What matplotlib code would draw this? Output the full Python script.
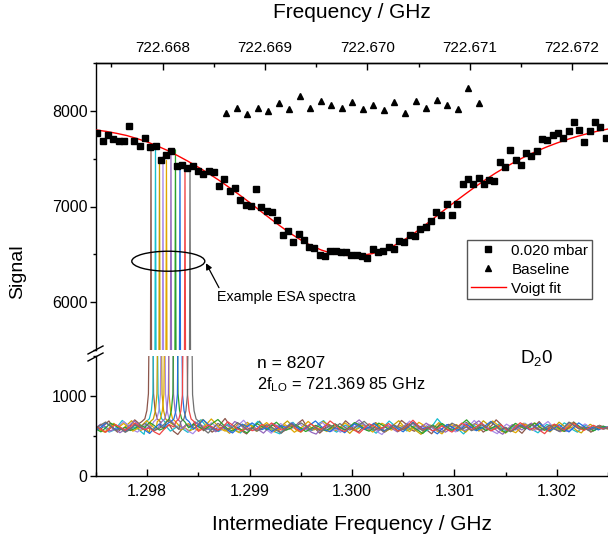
import numpy as np
import matplotlib
matplotlib.use("Agg")
import matplotlib.pyplot as plt
from matplotlib.ticker import MultipleLocator, FormatStrFormatter
from matplotlib.patches import Ellipse
from matplotlib.lines import Line2D

plt.rcParams['font.family'] = ['Liberation Sans', 'DejaVu Sans']

# sweep grid (intermediate frequency, GHz)
IF_MIN, IF_MAX = 1.2975, 1.3025
LO2 = 721.36985            # 2 f_LO, GHz
sig_x0, sig_dx = 1.297513, 0.0000517

# measured signal, 0.020 mbar
signal = [7770, 7682, 7752, 7707, 7682, 7682, 7839, 7682, 7637, 7718,
          7620, 7637, 7488, 7540, 7578, 7425, 7436, 7404, 7428, 7376,
          7342, 7376, 7358, 7212, 7289, 7157, 7195, 7063, 7018, 7010,
          7185, 7000, 6948, 6940, 6854, 6704, 6739, 6627, 6715, 6652,
          6575, 6564, 6495, 6481, 6530, 6540, 6522, 6522, 6488, 6488,
          6478, 6464, 6558, 6522, 6535, 6580, 6560, 6640, 6630, 6700,
          6690, 6770, 6790, 6850, 6940, 6916, 7028, 6906, 7021, 7230,
          7285, 7230, 7293, 7230, 7282, 7264, 7460, 7411, 7593, 7491,
          7436, 7564, 7530, 7585, 7707, 7690, 7745, 7766, 7714, 7787,
          7881, 7802, 7669, 7784, 7888, 7829, 7718]

# baseline (triangles)
base_x0, base_dx = 1.29877, 0.0001028
baseline = [7975, 8032, 7969, 8025, 8002, 8086, 8016, 8153, 8032, 8099,
            8063, 8029, 8092, 8019, 8066, 8012, 8096, 7975, 8104, 8025,
            8118, 8066, 8019, 8236, 8085]

# Voigt fit
fit_x = [1.2975, 1.2976, 1.2977, 1.2978, 1.2979, 1.2980, 1.2981, 1.2982, 1.2983, 1.2984,
         1.2985, 1.2986, 1.2987, 1.2988, 1.2989, 1.2990, 1.2991, 1.2992, 1.2993, 1.2994,
         1.2995, 1.2996, 1.2997, 1.2998, 1.2999, 1.3000, 1.3001, 1.3002, 1.3003, 1.3004,
         1.3005, 1.3006, 1.3007, 1.3008, 1.3009, 1.3010, 1.3011, 1.3012, 1.3013, 1.3014,
         1.3015, 1.3016, 1.3017, 1.3018, 1.3019, 1.3020, 1.3021, 1.3022, 1.3023, 1.3024,
         1.3025]
fit_y = [7800, 7785, 7765, 7742, 7710, 7675, 7632, 7585, 7530, 7472,
         7410, 7345, 7275, 7200, 7122, 7042, 6958, 6875, 6795, 6718,
         6650, 6592, 6545, 6512, 6492, 6485, 6490, 6508, 6540, 6585,
         6645, 6715, 6795, 6878, 6962, 7045, 7125, 7203, 7278, 7348,
         7412, 7472, 7527, 7577, 7622, 7663, 7700, 7733, 7762, 7788,
         7810]

# example ESA spectra: peak centre, peak height, colour
esa_centre = [1.298037, 1.298081, 1.298120, 1.298154, 1.298188,
              1.298232, 1.298276, 1.298320, 1.298369, 1.298418]
esa_height = [7603, 7630, 7500, 7520, 7481, 7540, 7592, 7428, 7436, 7410]
esa_color = ['#8c564b', '#17becf', '#c8a000', '#a98be8', '#e0a800',
             '#9467bd', '#2ca02c', '#1f6fe0', '#f04545', '#707070']
esa_base = 610
peak_dx = [-0.00009, -0.00006, -0.00004, -0.000025, -0.000012, 0.0,
           0.000012, 0.000025, 0.00004, 0.00006, 0.00009]
peak_rel = [0.01, 0.015, 0.03, 0.06, 0.3, 1.0, 0.3, 0.06, 0.03, 0.015, 0.01]

esa_noise = [
    [610, 575, 640, 688, 602, 548, 596, 571, 633, 702, 655, 589, 540, 583, 662, 617, 598, 641, 560, 519,
     587, 646, 612, 677, 631, 566, 603, 548, 590, 653, 719, 640, 581, 612, 559, 526, 598, 634, 685, 620,
     577, 645, 596, 541, 573, 628, 604, 662, 703, 618, 567, 589, 536, 582, 649, 611, 578, 624, 690, 643,
     581, 552, 606, 574, 631, 667, 598, 544, 583, 640, 612, 695, 652, 587, 559, 601, 633, 570, 528, 594,
     657, 619, 646, 604, 561, 590, 671, 638, 577, 612, 549, 586, 633, 702, 651, 596, 568, 611, 580, 534,
     597, 652, 625, 680, 617, 563, 598, 641, 589, 557, 612, 676, 630, 585, 603, 548, 579, 634, 611, 598],
    [582, 637, 603, 549, 571, 626, 694, 648, 590, 613, 567, 521, 588, 641, 617, 676, 622, 561, 597, 634,
     582, 545, 609, 668, 703, 631, 574, 602, 556, 591, 645, 612, 570, 538, 597, 651, 627, 683, 639, 578,
     604, 549, 527, 589, 634, 671, 615, 586, 620, 566, 602, 659, 692, 633, 581, 548, 595, 637, 606, 568,
     611, 657, 614, 579, 535, 583, 628, 687, 641, 596, 618, 563, 592, 647, 605, 553, 579, 636, 716, 652,
     590, 567, 601, 574, 526, 588, 642, 613, 660, 624, 571, 603, 649, 588, 552, 597, 633, 608, 659, 617,
     572, 540, 593, 645, 622, 581, 609, 664, 631, 577, 548, 600, 638, 594, 571, 612, 584, 606],
    [627, 571, 548, 603, 658, 612, 587, 639, 691, 628, 569, 597, 546, 513, 579, 638, 606, 654, 619, 575,
     601, 563, 592, 649, 707, 642, 588, 557, 610, 578, 534, 596, 655, 623, 671, 618, 560, 584, 637, 596,
     551, 603, 642, 688, 629, 573, 548, 592, 619, 577, 629, 682, 645, 597, 566, 611, 583, 533, 590, 651,
     608, 573, 621, 660, 606, 557, 589, 645, 691, 628, 584, 605, 562, 521, 593, 638, 612, 667, 619, 578,
     603, 643, 587, 547, 598, 656, 627, 690, 644, 582, 609, 563, 536, 594, 641, 607, 659, 620, 571, 596,
     637, 585, 552, 608, 673, 629, 588, 615, 567, 539, 601, 646, 613, 586, 620, 592],
    [596, 643, 612, 558, 585, 626, 680, 633, 575, 549, 602, 651, 614, 568, 596, 639, 704, 648, 586, 611,
     562, 528, 590, 632, 609, 665, 618, 573, 601, 547, 582, 643, 697, 629, 566, 593, 621, 578, 535, 597,
     656, 621, 584, 612, 660, 611, 563, 590, 628, 672, 619, 558, 586, 547, 605, 649, 612, 667, 626, 571,
     598, 552, 519, 587, 640, 611, 583, 630, 686, 628, 574, 601, 646, 598, 560, 592, 633, 579, 551, 610,
     662, 631, 694, 635, 580, 607, 559, 529, 596, 648, 613, 574, 618, 658, 603, 567, 594, 639, 681, 622,
     570, 598, 557, 583, 631, 606, 651, 612, 579, 604, 623, 592],
    [619, 581, 553, 601, 644, 612, 658, 606, 561, 594, 637, 692, 634, 579, 606, 559, 518, 586, 629, 603,
     655, 614, 572, 598, 649, 713, 651, 590, 561, 608, 575, 543, 598, 651, 618, 576, 623, 668, 612, 568,
     592, 641, 601, 547, 584, 626, 682, 633, 579, 603, 556, 590, 638, 611, 663, 621, 570, 597, 642, 588,
     549, 606, 659, 627, 574, 598, 633, 587, 556, 613, 671, 636, 589, 615, 561, 527, 591, 645, 614, 570,
     609, 652, 605, 562, 596, 631, 687, 642, 583, 601, 567, 541, 599, 648, 619, 663, 624, 576, 603, 638,
     591, 558, 612, 664, 628, 584, 607, 571, 598, 630, 601, 587],
    [603, 648, 616, 563, 591, 541, 579, 634, 688, 637, 583, 612, 564, 599, 651, 613, 572, 540, 597, 643,
     611, 668, 626, 577, 604, 553, 589, 640, 614, 681, 648, 591, 565, 610, 578, 536, 598, 653, 624, 589,
     617, 663, 612, 569, 593, 547, 524, 588, 637, 604, 651, 609, 574, 601, 655, 702, 646, 588, 614, 566,
     593, 632, 587, 551, 605, 657, 621, 579, 608, 661, 618, 572, 596, 548, 583, 639, 610, 568, 594, 645,
     690, 638, 581, 606, 557, 522, 589, 643, 612, 576, 620, 661, 609, 566, 597, 634, 585, 552, 610, 668,
     627, 588, 614, 573, 599, 627, 603, 590],
    [588, 552, 603, 661, 626, 581, 610, 568, 594, 642, 607, 670, 629, 574, 598, 545, 521, 585, 634, 603,
     647, 617, 579, 611, 663, 706, 645, 590, 562, 604, 572, 538, 596, 655, 619, 580, 626, 672, 615, 573,
     601, 641, 598, 556, 589, 633, 607, 567, 594, 650, 611, 576, 614, 668, 639, 586, 560, 603, 661, 627,
     584, 609, 561, 594, 646, 612, 572, 531, 590, 637, 604, 656, 612, 571, 598, 651, 702, 639, 583, 612,
     567, 596, 628, 582, 543, 604, 658, 624, 588, 617, 662, 610, 571, 599, 643, 594, 557, 611, 667, 626,
     582, 606, 563, 599, 622, 606],
    [571, 609, 665, 623, 581, 604, 557, 592, 643, 611, 574, 532, 598, 651, 618, 671, 624, 578, 601, 553,
     585, 636, 703, 647, 592, 563, 612, 575, 538, 594, 648, 616, 664, 621, 579, 606, 557, 590, 629, 604,
     662, 614, 571, 598, 643, 688, 629, 576, 553, 607, 580, 541, 597, 652, 619, 583, 612, 659, 607, 564,
     592, 634, 586, 553, 610, 672, 634, 589, 615, 568, 527, 591, 643, 610, 571, 599, 645, 603, 566, 595,
     636, 683, 628, 574, 604, 557, 589, 641, 612, 574, 615, 659, 607, 562, 597, 642, 590, 551, 608, 664,
     623, 588, 612, 576, 603, 614],
    [624, 587, 547, 598, 643, 607, 569, 613, 661, 619, 577, 602, 550, 518, 586, 642, 612, 665, 624, 579,
     603, 558, 593, 637, 609, 570, 611, 678, 637, 587, 562, 605, 567, 590, 645, 611, 663, 617, 574, 599,
     650, 593, 552, 607, 653, 613, 575, 621, 688, 642, 582, 556, 604, 572, 535, 596, 652, 624, 583, 611,
     656, 602, 561, 589, 638, 697, 633, 574, 606, 563, 591, 627, 582, 549, 604, 661, 626, 579, 613, 659,
     608, 563, 594, 640, 587, 556, 609, 666, 625, 581, 604, 571, 529, 598, 649, 612, 574, 617, 662, 608,
     569, 597, 634, 606, 585, 611],
    [601, 639, 675, 619, 567, 592, 546, 582, 640, 604, 657, 612, 569, 596, 648, 701, 640, 583, 607, 556,
     591, 633, 588, 537, 599, 657, 621, 578, 611, 667, 632, 579, 603, 561, 594, 642, 611, 572, 535, 596,
     649, 617, 665, 626, 580, 605, 560, 588, 634, 604, 656, 611, 574, 602, 641, 683, 627, 572, 596, 551,
     587, 636, 613, 576, 618, 663, 609, 565, 597, 626, 580, 548, 607, 661, 628, 584, 612, 566, 591, 639,
     604, 671, 627, 579, 608, 553, 586, 633, 602, 647, 613, 573, 598, 637, 588, 559, 612, 674, 631, 590,
     611, 567, 594, 625, 603, 596],
]


def esa_trace(noise, centre, height):
    x = np.linspace(IF_MIN, IF_MAX, len(noise))
    y = np.array(noise, dtype=float)
    keep = np.abs(x - centre) > peak_dx[-1]
    px = centre + np.array(peak_dx)
    py = esa_base + np.array(peak_rel) * (height - esa_base)
    xx = np.concatenate([x[keep], px])
    yy = np.concatenate([y[keep], py])
    order = np.argsort(xx)
    return xx[order], yy[order]


fig = plt.figure(figsize=(6.08, 5.40), dpi=100)
L, W = 96 / 608, 512 / 608
ax_top = fig.add_axes([L, (540 - 350) / 540, W, 287 / 540])
ax_bot = fig.add_axes([L, (540 - 476) / 540, W, 120 / 540])

sx = sig_x0 + sig_dx * np.arange(len(signal))
bx = base_x0 + base_dx * np.arange(len(baseline))

for ax in (ax_top, ax_bot):
    for noise, c, h, col in zip(esa_noise, esa_centre, esa_height, esa_color):
        tx, ty = esa_trace(noise, c, h)
        ax.plot(tx, ty, color=col, lw=0.9, zorder=2)
    ax.set_xlim(IF_MIN, IF_MAX)
    ax.spines['right'].set_visible(False)
    for s in ax.spines.values():
        s.set_linewidth(1.0)

ax_top.plot(fit_x, fit_y, color='#ff0000', lw=1.0, zorder=3, label='Voigt fit')
ax_top.plot(sx, signal, 's', color='black', ms=4.3, zorder=4, label='0.020 mbar')
ax_top.plot(bx, baseline, '^', color='black', ms=5, zorder=4, label='Baseline')

ax_top.set_ylim(5500, 8500)
ax_bot.set_ylim(0, 1500)

ax_top.spines['bottom'].set_visible(False)
ax_bot.spines['top'].set_visible(False)

# x ticks
ax_top.tick_params(axis='x', which='both', bottom=False, top=False,
                   labelbottom=False, labeltop=False)
ax_bot.xaxis.set_major_locator(MultipleLocator(0.001))
ax_bot.xaxis.set_minor_locator(MultipleLocator(0.0005))
ax_bot.xaxis.set_major_formatter(FormatStrFormatter('%.3f'))
ax_bot.tick_params(axis='x', which='major', direction='in', length=5, width=1,
                   labelsize=11.5, pad=6)
ax_bot.tick_params(axis='x', which='minor', direction='in', length=3, width=1)

# y ticks
ax_top.yaxis.set_major_locator(MultipleLocator(1000))
ax_top.yaxis.set_minor_locator(MultipleLocator(500))
ax_bot.yaxis.set_major_locator(MultipleLocator(1000))
ax_bot.yaxis.set_minor_locator(MultipleLocator(500))
for ax in (ax_top, ax_bot):
    ax.tick_params(axis='y', which='major', direction='out', length=4, width=1,
                   labelsize=11.5, pad=2)
    ax.tick_params(axis='y', which='minor', direction='out', length=2.5, width=1)

# top frequency axis
sec = ax_top.secondary_xaxis('top', functions=(lambda f: f + LO2, lambda f: f - LO2))
sec.xaxis.set_major_locator(MultipleLocator(0.001))
sec.xaxis.set_minor_locator(MultipleLocator(0.0005))
sec.xaxis.set_major_formatter(FormatStrFormatter('%.3f'))
sec.tick_params(axis='x', which='major', direction='in', length=5, width=1,
                labelsize=11, pad=6)
sec.tick_params(axis='x', which='minor', direction='in', length=3, width=1)
sec.spines['top'].set_linewidth(1.0)

# axis break marks
for y0 in (354, 361):
    fig.add_artist(Line2D([88 / 608, 103 / 608],
                          [(540 - y0) / 540, (540 - y0 + 8) / 540],
                          color='black', lw=1.0))

# legend
handles, labels = ax_top.get_legend_handles_labels()
order = [1, 2, 0]
leg = ax_top.legend([handles[i] for i in order], [labels[i] for i in order],
                    loc='upper left', bbox_to_anchor=(467 / 608, 1 - 240 / 540),
                    bbox_transform=fig.transFigure, fontsize=11, frameon=True,
                    fancybox=False, edgecolor='#555555', framealpha=1,
                    handlelength=2.3, handletextpad=0.35, labelspacing=0.32,
                    borderpad=0.25, borderaxespad=0)
leg.get_frame().set_linewidth(1.0)

# annotation of example spectra
ax_top.add_patch(Ellipse((1.298206, 6428), 0.000713, 209, fill=False,
                         edgecolor='black', lw=1.0, zorder=5))
ax_top.annotate('Example ESA spectra', xy=(1.298574, 6407), xytext=(1.298682, 6049),
                fontsize=10.3, va='center', ha='left',
                arrowprops=dict(arrowstyle='-|>', color='black', lw=0.9,
                                mutation_scale=9, shrinkA=0, shrinkB=0,
                                relpos=(0.03, 0.9)))

ax_bot.text(1.299072, 1400, 'n = 8207', fontsize=12.5, va='center', ha='left',
            clip_on=False)
ax_bot.text(1.299072, 1148, r'2f$_{\mathregular{LO}}$ = 721.369 85 GHz', fontsize=11.8,
            va='center', ha='left', clip_on=False)
ax_bot.text(1.301641, 1463, r'D$_{\mathregular{2}}$0', fontsize=13.5, va='center',
            ha='left', clip_on=False)

fig.text(352 / 608, 1 - 12 / 540, 'Frequency / GHz', fontsize=15, ha='center', va='center')
fig.text(352 / 608, 1 - 524 / 540, 'Intermediate Frequency / GHz', fontsize=15,
         ha='center', va='center')
fig.text(18 / 608, 1 - 272 / 540, 'Signal', fontsize=14, rotation=90,
         ha='center', va='center')

fig.savefig('out.png', dpi=100)
